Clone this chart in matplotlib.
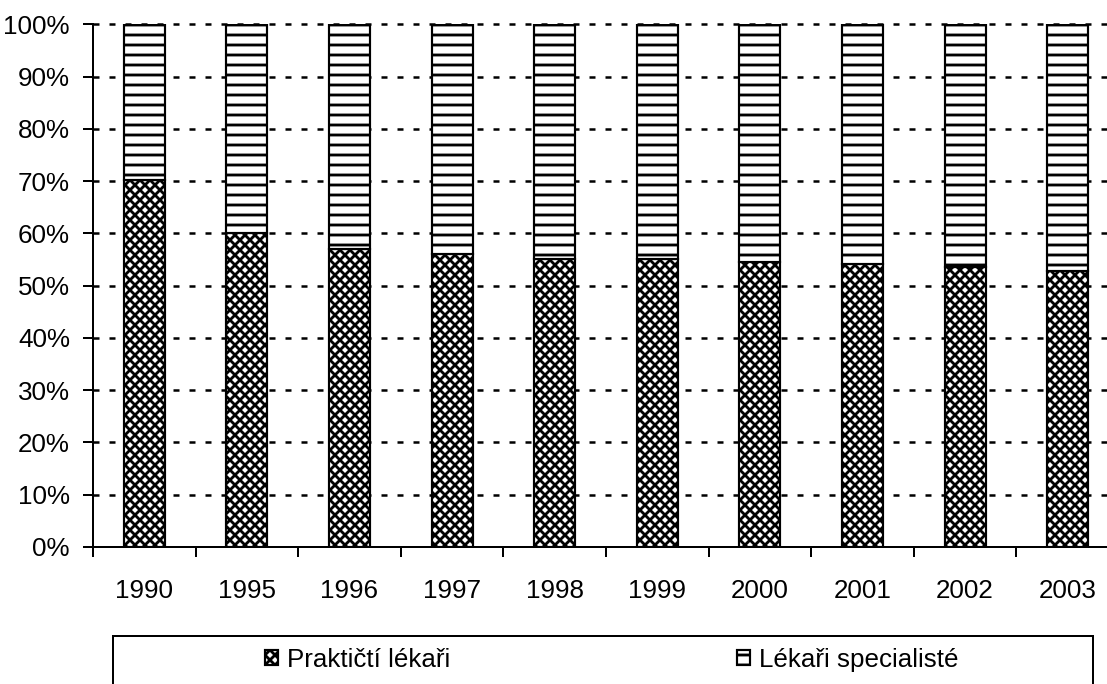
import numpy as np
import matplotlib
matplotlib.use('Agg')
import matplotlib.pyplot as plt
from matplotlib.patches import Rectangle
from matplotlib.ticker import FuncFormatter
from matplotlib import font_manager

years = ['1990', '1995', '1996', '1997', '1998', '1999', '2000', '2001', '2002', '2003']
prakticti = np.array([70.3, 60.1, 57.0, 56.1, 55.1, 55.1, 54.6, 54.2, 53.6, 52.9])  # %
specialiste = 100 - prakticti
series_names = ['Praktičtí lékaři', 'Lékaři specialisté']

installed = {f.name for f in font_manager.fontManager.ttflist}
narrow = 'Liberation Sans Narrow' in installed
fams = (['Liberation Sans Narrow'] if narrow else []) + ['Liberation Sans', 'DejaVu Sans']
fs = 16.8 if narrow else 15.6

plt.rcParams['font.family'] = fams
plt.rcParams['hatch.linewidth'] = 1.7
plt.rcParams['hatch.color'] = 'black'

DPI = 120
fig = plt.figure(figsize=(1107 / DPI, 684 / DPI), dpi=DPI)
ax = fig.add_axes([0.084, 0.2003, 0.9268, 0.7639])

x = np.arange(len(years))
b1 = ax.bar(x, prakticti, width=0.4, color='white', edgecolor='black',
            linewidth=1.3, hatch='xxxx', label=series_names[0], zorder=2)
b2 = ax.bar(x, specialiste, width=0.4, bottom=prakticti, color='white',
            edgecolor='black', linewidth=1.3, hatch='--', label=series_names[1], zorder=2)

ax.set_xlim(-0.5, len(years) - 0.5)
ax.set_ylim(0, 100)
ax.set_yticks(np.arange(0, 101, 10))
ax.yaxis.set_major_formatter(FuncFormatter(lambda v, p: f'{v:.0f}%'))
ax.set_xticks(x)
ax.set_xticklabels(years)
ax.set_xticks(np.arange(-0.5, len(years), 1), minor=True)

ax.tick_params(axis='y', length=6, width=1.2, pad=7.8, labelsize=fs, color='black')
ax.tick_params(axis='x', which='major', length=0, pad=19, labelsize=fs)
ax.tick_params(axis='x', which='minor', length=6, width=1.2)

for s in ['top', 'right']:
    ax.spines[s].set_visible(False)
for s in ['left', 'bottom']:
    ax.spines[s].set_linewidth(1.2)
    ax.spines[s].set_zorder(3)

ax.set_axisbelow(True)
for v in np.arange(10, 101, 10):
    ax.axhline(v, color='black', linewidth=1.5, dashes=(2.4, 4), zorder=1, clip_on=False)

# legend box (runs off the bottom edge like the original)
fig.add_artist(Rectangle((0.102, -0.03), 0.885, 0.1, transform=fig.transFigure,
                         fill=False, edgecolor='black', linewidth=1.2, clip_on=False))
for handle, name, cx in [(b1, series_names[0], 0.3234), (b2, series_names[1], 0.766)]:
    fig.legend([handle], [name], loc='center', bbox_to_anchor=(cx, 0.0351),
               frameon=False, fontsize=fs, handlelength=0.5, handleheight=0.5,
               handletextpad=0.35, borderpad=0)

fig.savefig('out.png', dpi=DPI)
